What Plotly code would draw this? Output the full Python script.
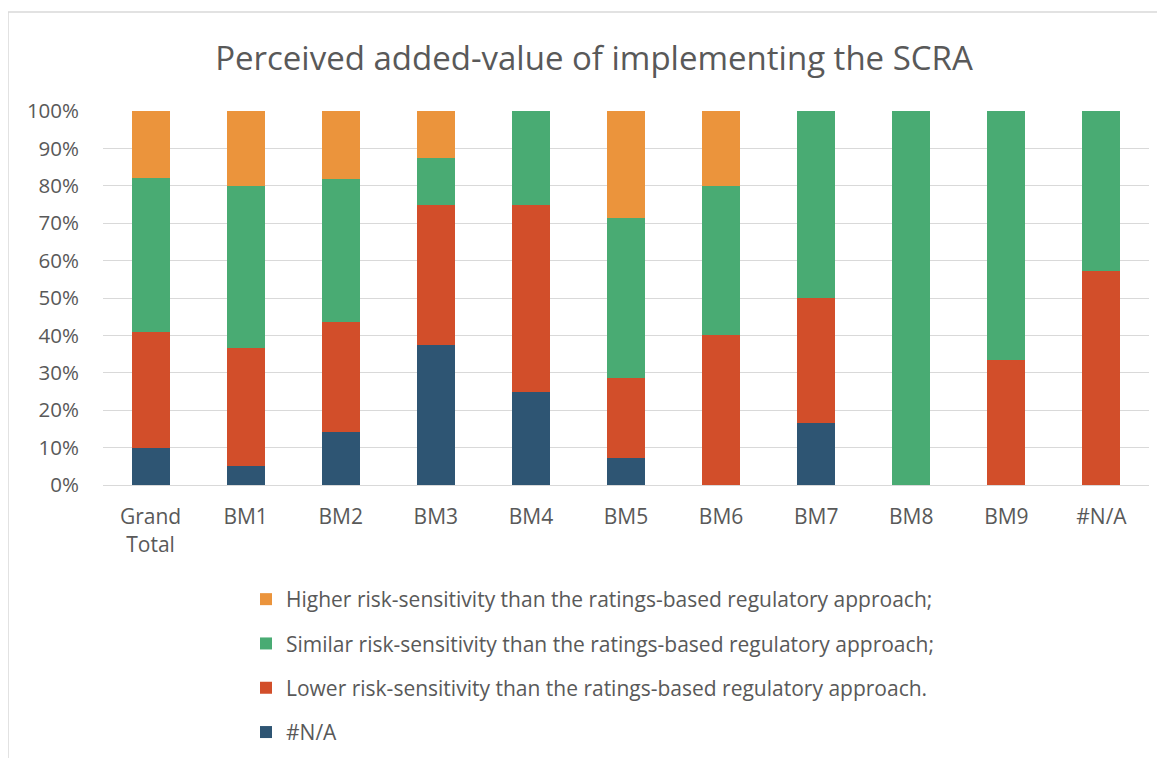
import plotly.graph_objects as go

categories = ["Grand<br>Total", "BM1", "BM2", "BM3", "BM4", "BM5", "BM6", "BM7", "BM8", "BM9", "#N/A"]
series_names = [
    "#N/A",
    "Lower risk-sensitivity than the ratings-based regulatory approach.",
    "Similar risk-sensitivity than the ratings-based regulatory approach;",
    "Higher risk-sensitivity than the ratings-based regulatory approach;",
]
na_vals = [0.100, 0.050, 0.143, 0.375, 0.25, 0.071, 0.0, 0.167, 0.0, 0.0, 0.0]
lower_vals = [0.310, 0.316, 0.293, 0.375, 0.50, 0.215, 0.40, 0.333, 0.0, 0.333, 0.571]
similar_vals = [0.410, 0.434, 0.382, 0.125, 0.25, 0.428, 0.40, 0.500, 1.0, 0.667, 0.429]
higher_vals = [0.180, 0.200, 0.182, 0.125, 0.0, 0.286, 0.20, 0.0, 0.0, 0.0, 0.0]
colors = ["#2E5573", "#D24E2A", "#49AB73", "#EB943C"]
legend_ranks = [4, 3, 2, 1]

# page is offset by the default 8px body margin; work in screen pixels
OFF = 8
W, H = 1165, 758
L, R, T, B = 103 - OFF, 1149 - OFF, 111 - OFF, 485 - OFF

def px_x(p):
    return (p - OFF - L) / (R - L)

def px_y(p):
    return (B - (p - OFF)) / (B - T)

fig = go.Figure()
for i, (name, vals) in enumerate(zip(series_names, [na_vals, lower_vals, similar_vals, higher_vals])):
    fig.add_trace(go.Bar(
        x=categories, y=vals, name=name, marker_color=colors[i],
        marker_line_width=0, legendgroup=f"g{i}", legendrank=legend_ranks[i],
    ))

FONT = "Open Sans, Calibri, sans-serif"
fig.update_layout(
    width=W, height=H,
    barmode="stack", bargap=0.6,
    margin=dict(l=L, r=W - R, t=T, b=H - B, autoexpand=False),
    paper_bgcolor="white", plot_bgcolor="white",
    font=dict(family=FONT, color="#595959", size=20),
    title=dict(text="Perceived added-value of implementing the SCRA",
               xref="paper", x=px_x(594), xanchor="center",
               yref="container", y=1 - (58 - OFF) / H, yanchor="middle",
               font=dict(size=33, color="#595959")),
    yaxis=dict(range=[0, 1], tickvals=[i / 10 for i in range(11)],
               tickformat=".0%", showgrid=True, gridcolor="#D9D9D9", gridwidth=1,
               zeroline=False, ticks="", ticklabelstandoff=23,
               tickfont=dict(size=20.5, color="#595959"), fixedrange=True),
    xaxis=dict(showline=True, linecolor="#D9D9D9", linewidth=1, ticks="",
               tickfont=dict(size=21, color="#595959"), ticklabelstandoff=13),
    legend=dict(orientation="v", x=px_x(246), xanchor="left", y=px_y(579), yanchor="top",
                traceorder="grouped", tracegroupgap=14,
                font=dict(size=21, color="#595959"), bgcolor="rgba(0,0,0,0)"),
    shapes=[
        dict(type="line", xref="paper", yref="paper", x0=px_x(8), x1=px_x(8),
             y0=px_y(12), y1=px_y(800), line=dict(color="#D9D9D9", width=1.5)),
        dict(type="line", xref="paper", yref="paper", x0=px_x(8), x1=px_x(1200),
             y0=px_y(12), y1=px_y(12), line=dict(color="#D9D9D9", width=1.5)),
    ],
)

fig.write_html("out.html")
